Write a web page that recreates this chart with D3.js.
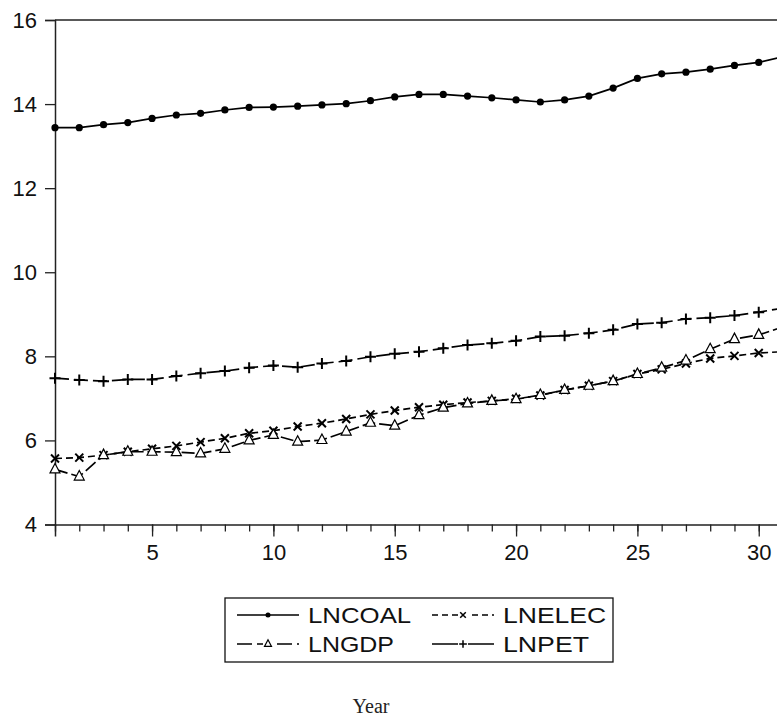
<!DOCTYPE html>
<html>
<head>
<meta charset="utf-8">
<script src="https://cdn.jsdelivr.net/npm/d3@7"></script>
<style>
  html, body { margin: 0; padding: 0; background: #fff; }
  svg { display: block; }
</style>
</head>
<body>
<div id="chart"></div>
<script>
// Daten
const years = d3.range(1, 32);
const lncoal = [13.44, 13.44, 13.51, 13.56, 13.66, 13.74, 13.78, 13.86, 13.92, 13.93,
  13.95, 13.98, 14.01, 14.08, 14.17, 14.23, 14.23, 14.19, 14.15, 14.10,
  14.05, 14.10, 14.19, 14.38, 14.61, 14.72, 14.76, 14.83, 14.92, 14.99, 15.13];
const lnelec = [5.57, 5.59, 5.65, 5.73, 5.80, 5.87, 5.96, 6.05, 6.17, 6.23,
  6.33, 6.41, 6.51, 6.62, 6.71, 6.79, 6.85, 6.90, 6.94, 6.99,
  7.07, 7.20, 7.30, 7.41, 7.58, 7.69, 7.83, 7.95, 8.01, 8.08, 8.11];
const lngdp = [5.31, 5.14, 5.65, 5.73, 5.73, 5.72, 5.69, 5.80, 6.00, 6.13,
  5.97, 6.01, 6.21, 6.42, 6.35, 6.60, 6.78, 6.88, 6.94, 6.98,
  7.08, 7.20, 7.30, 7.41, 7.58, 7.73, 7.90, 8.17, 8.41, 8.51, 8.70];
const lnpet = [7.48, 7.44, 7.41, 7.45, 7.45, 7.53, 7.60, 7.65, 7.73, 7.78,
  7.74, 7.83, 7.89, 7.99, 8.06, 8.11, 8.19, 8.27, 8.31, 8.37,
  8.47, 8.49, 8.55, 8.63, 8.77, 8.80, 8.89, 8.92, 8.97, 9.05, 9.15];
const yTicks = [4, 6, 8, 10, 12, 14, 16];
const xTicks = [5, 10, 15, 20, 25, 30];

// Linienstile: im Plot / in der Legende
const series = [
  { name: "LNCOAL", values: lncoal, dash: null,   legDash: null,    marker: "dot" },
  { name: "LNELEC", values: lnelec, dash: "7,4",  legDash: "6,4",   marker: "x" },
  { name: "LNGDP",  values: lngdp,  dash: "13,4", legDash: "15,5",  marker: "tri" },
  { name: "LNPET",  values: lnpet,  dash: "14,5", legDash: null,    marker: "plus" }
];

// Layout
const W = 777, H = 718;
const m = { top: 20, left: 55 };
const plotW = 728, plotH = 504.5;

const svg = d3.select("#chart").append("svg").attr("width", W).attr("height", H);
const g = svg.append("g").attr("transform", `translate(${m.left},${m.top})`);

const x = d3.scaleLinear().domain([1, 31]).range([0, plotW]);
const y = d3.scaleLinear().domain([4, 16]).range([plotH, 0]);

// Marker-Pfade
function markerPath(type, k) {
  if (type === "x") return `M${-4*k},${-4*k}L${4*k},${4*k}M${-4*k},${4*k}L${4*k},${-4*k}`;
  if (type === "plus") return `M${-5.5*k},0L${5.5*k},0M0,${-5.5*k}L0,${5.5*k}`;
  if (type === "tri") return `M0,${-6*k}L${5*k},${3.5*k}L${-5*k},${3.5*k}Z`;
  return null;
}
function drawMarker(sel, type, cx, cy, k = 1) {
  if (type === "dot") {
    sel.append("circle").attr("cx", cx).attr("cy", cy).attr("r", 3.6 * k).attr("fill", "#000");
  } else {
    sel.append("path")
      .attr("transform", `translate(${cx},${cy})`)
      .attr("d", markerPath(type, k))
      .attr("fill", type === "tri" ? "#fff" : "none")
      .attr("stroke", "#000")
      .attr("stroke-width", type === "tri" ? 1.2 : 2 * Math.max(k, 0.75));
  }
}

// Rahmen
g.append("line").attr("x1", 0).attr("x2", plotW).attr("y1", 0).attr("y2", 0)
  .attr("stroke", "#222").attr("stroke-width", 1.5);
g.append("line").attr("x1", plotW).attr("x2", plotW).attr("y1", 0).attr("y2", plotH)
  .attr("stroke", "#222").attr("stroke-width", 1.5);

// Achsen
const yAxis = g.append("g")
  .call(d3.axisLeft(y).tickValues(yTicks).tickSize(10).tickPadding(8).tickFormat(d3.format("d")));
const xMinor = g.append("g").attr("transform", `translate(0,${plotH})`)
  .call(d3.axisBottom(x).tickValues(years).tickSize(7).tickFormat(""));
const xAxis = g.append("g").attr("transform", `translate(0,${plotH})`)
  .call(d3.axisBottom(x).tickValues(xTicks).tickSize(12).tickPadding(8).tickFormat(d3.format("d")));

[yAxis, xMinor, xAxis].forEach(a => {
  a.select(".domain").attr("stroke", "#222").attr("stroke-width", 1.5);
  a.selectAll(".tick line").attr("stroke", "#222").attr("stroke-width", 1.3);
  a.selectAll("text").attr("fill", "#111")
    .style("font-family", "Liberation Sans, Arial, sans-serif").style("font-size", "22px");
});
xMinor.select(".domain").remove();
xAxis.selectAll("text").attr("dy", "0.72em");

// Linien
const line = d3.line().x((d, i) => x(years[i])).y(d => y(d));
series.forEach(s => {
  g.append("path").datum(s.values)
    .attr("d", line)
    .attr("fill", "none")
    .attr("stroke", "#000")
    .attr("stroke-width", 1.7)
    .attr("stroke-dasharray", s.dash);
  const mg = g.append("g");
  s.values.forEach((v, i) => drawMarker(mg, s.marker, x(years[i]), y(v)));
});

// Legende
const leg = svg.append("g").attr("transform", "translate(225,598)");
leg.append("rect").attr("width", 388).attr("height", 64)
  .attr("fill", "#fff").attr("stroke", "#111").attr("stroke-width", 1.3);
const legPos = [[12, 17], [207, 17], [12, 46], [207, 46]];
series.forEach((s, i) => {
  const [lx, ly] = legPos[i];
  const row = leg.append("g").attr("transform", `translate(${lx},${ly})`);
  row.append("line").attr("x1", 0).attr("x2", 62).attr("y1", 0).attr("y2", 0)
    .attr("stroke", "#000").attr("stroke-width", 1.4)
    .attr("stroke-dasharray", s.legDash);
  if (s.marker !== "dot") {
    row.append("rect").attr("x", 26).attr("y", -5).attr("width", 10).attr("height", 10).attr("fill", "#fff");
  }
  drawMarker(row, s.marker, 31, 0, 0.7);
  row.append("text").attr("x", 71).attr("y", 8)
    .style("font-family", "Liberation Sans, Arial, sans-serif")
    .style("font-size", "22px").attr("fill", "#111")
    .attr("textLength", s.name.length * 17.2).attr("lengthAdjust", "spacingAndGlyphs")
    .text(s.name);
});

// Achsentitel
svg.append("text").attr("x", 371).attr("y", 713)
  .attr("text-anchor", "middle")
  .style("font-family", "Liberation Serif, Times New Roman, serif")
  .style("font-size", "20px").attr("fill", "#222")
  .text("Year");
</script>
</body>
</html>
